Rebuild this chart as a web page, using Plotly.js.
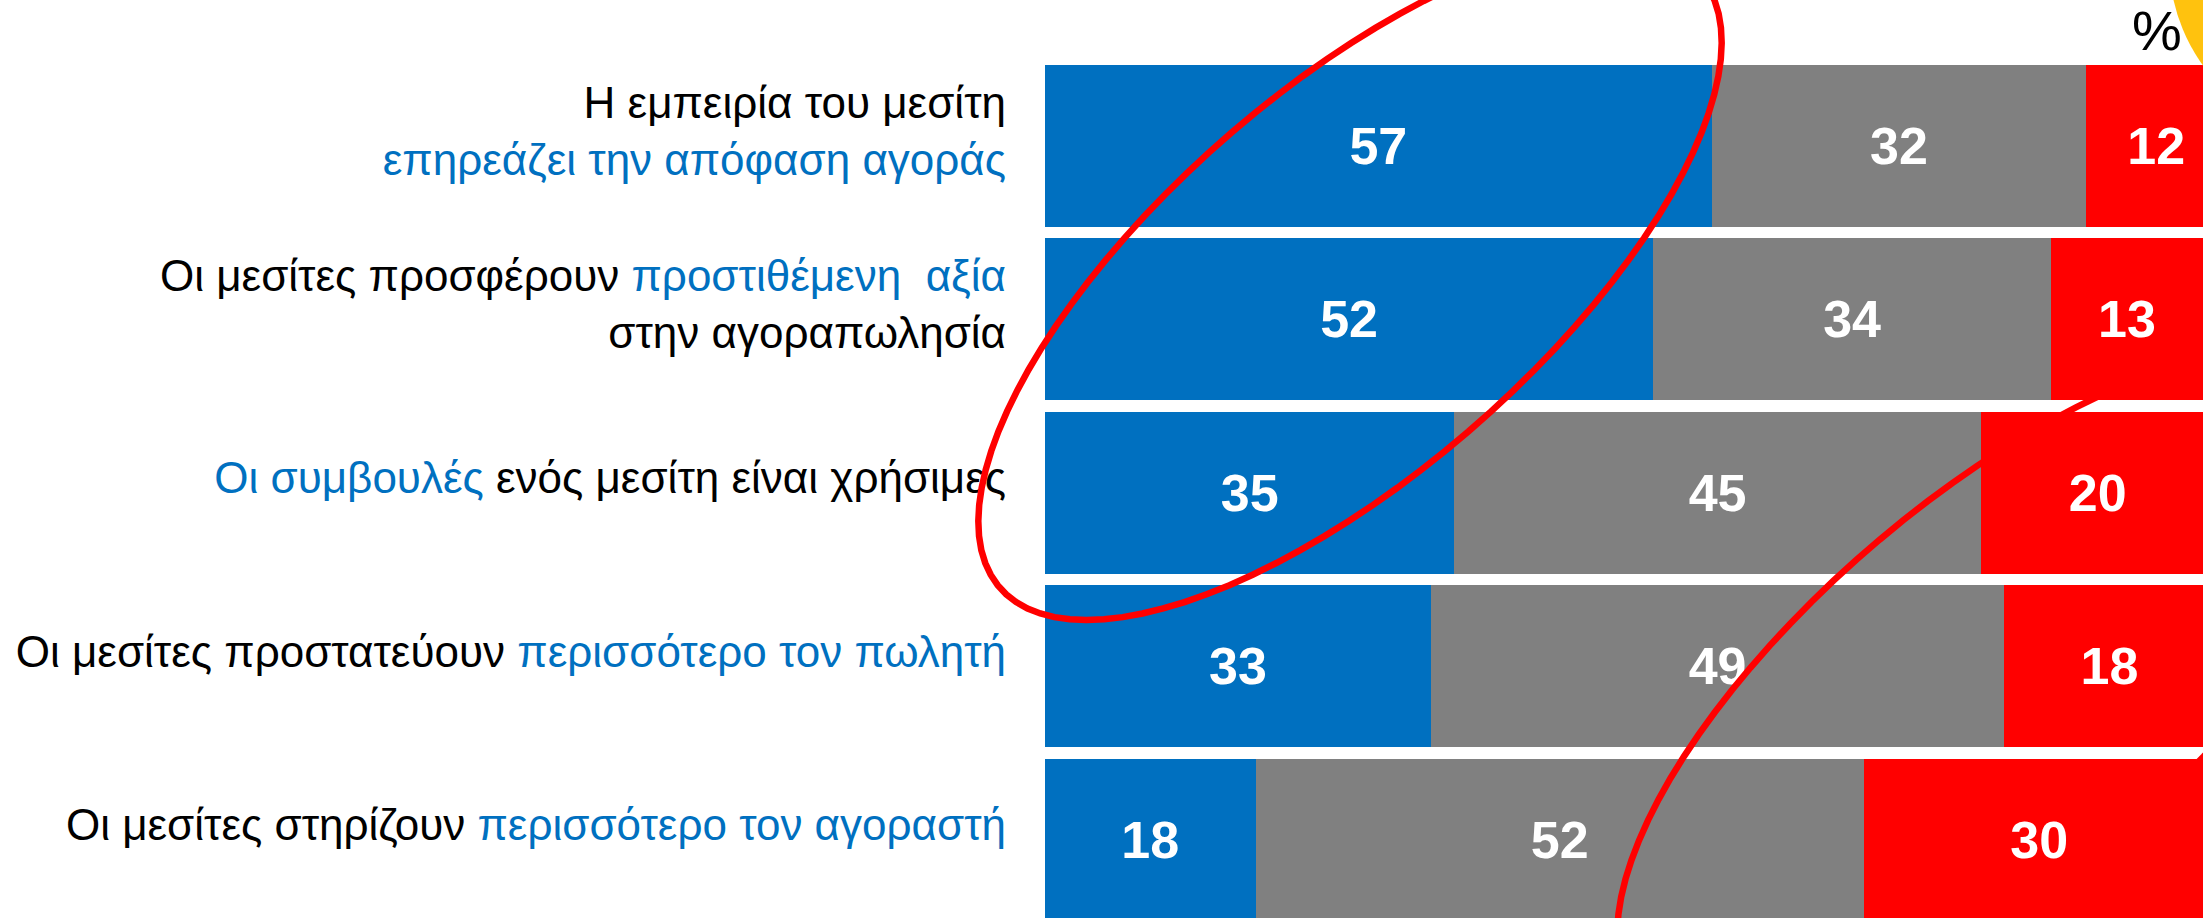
<!DOCTYPE html>
<html>
<head>
<meta charset="utf-8">
<script src="https://cdn.plot.ly/plotly-3.0.1.min.js"></script>
<style>html,body{margin:0;padding:0;background:#fff;}#chart{width:2203px;height:918px;}</style>
</head>
<body>
<div id="chart"></div>
<script>
// ---- data ----
// Tick labels: "\n" = line break, [ ... ] = highlighted (blue) words
const tickLabels = [
  "Η εμπειρία του μεσίτη\n[επηρεάζει την απόφαση αγοράς]",
  "Οι μεσίτες προσφέρουν [προστιθέμενη \u00A0αξία]\nστην αγοραπωλησία",
  "[Οι συμβουλές] ενός μεσίτη είναι χρήσιμες",
  "Οι μεσίτες προστατεύουν [περισσότερο τον πωλητή]",
  "Οι μεσίτες στηρίζουν [περισσότερο τον αγοραστή]"
];
const categories = ["Εμπειρία", "Προστιθέμενη αξία", "Συμβουλές", "Προστασία πωλητή", "Στήριξη αγοραστή"];
const seriesNames = ["Συμφωνώ", "Ούτε συμφωνώ ούτε διαφωνώ", "Διαφωνώ"];
const agree    = [57, 52, 35, 33, 18];
const neutral  = [32, 34, 45, 49, 52];
const disagree = [12, 13, 20, 18, 30];
const unitLabel = "%";

// ---- styles ----
const BLUE = "#0070C0", GREY = "#808080", RED = "#FF0000";
const W = 2203, H = 918, L = 1045;

function richLabel(s) {
  return s.replace(/\[([^\]]*)\]/g, '<span style="color:' + BLUE + '">$1</span>').replace(/\n/g, "<br>");
}
function toPaper(x, y) { return [(x - L) / (W - L), 1 - y / H]; }
function loopPath(cx, cy, w, h, shear) {
  let d = "";
  for (let i = 0; i <= 96; i++) {
    const t = 2 * Math.PI * i / 96;
    const x = cx + w * Math.cos(t) + shear * h * Math.sin(t);
    const y = cy + h * Math.sin(t);
    const p = toPaper(x, y);
    d += (i === 0 ? "M" : "L") + p[0].toFixed(5) + "," + p[1].toFixed(5);
  }
  return d + "Z";
}

const colors = [BLUE, GREY, RED];
const vals = [agree, neutral, disagree];
const traces = vals.map((v, i) => ({
  type: "bar",
  orientation: "h",
  name: seriesNames[i],
  y: categories,
  x: v,
  text: v.map(String),
  textposition: "inside",
  insidetextanchor: "middle",
  constraintext: "none",
  textangle: 0,
  textfont: {family: "Liberation Sans, Arial, sans-serif", size: 52, color: "#ffffff", weight: "bold"},
  marker: {color: colors[i], line: {width: 0}},
  hoverinfo: "skip",
  cliponaxis: true
}));

const c1 = toPaper(2169, -221), c2 = toPaper(2531, 141);
const pc = toPaper(2157, 31);

const layout = {
  width: W, height: H,
  margin: {l: L, r: 0, t: 0, b: 0, pad: 0},
  paper_bgcolor: "#ffffff", plot_bgcolor: "#ffffff",
  barmode: "stack",
  bargap: 0.066,
  showlegend: false,
  xaxis: {range: [0, 99.0], showgrid: false, zeroline: false, showticklabels: false, showline: false, fixedrange: true},
  yaxis: {
    type: "category",
    range: [4.45, -0.8415],
    tickvals: categories,
    ticktext: tickLabels.map(richLabel),
    ticks: "",
    ticklabelstandoff: 38,
    ticklabelshift: 15,
    showgrid: false, zeroline: false, showline: false, fixedrange: true,
    tickfont: {family: "Liberation Sans, Arial, sans-serif", size: 44, color: "#000000"}
  },
  shapes: [
    {type: "circle", xref: "paper", yref: "paper", x0: c1[0], x1: c2[0], y0: c2[1], y1: c1[1],
     fillcolor: "#FFC20E", line: {width: 0}, layer: "above"},
    {type: "path", xref: "paper", yref: "paper", path: loopPath(1350, 282, 262, 338, -0.78),
     line: {color: RED, width: 6.5}, layer: "above"},
    {type: "path", xref: "paper", yref: "paper", path: loopPath(1997, 690, 265, 340, -0.8),
     line: {color: RED, width: 6.5}, layer: "above"}
  ],
  annotations: [
    {xref: "paper", yref: "paper", x: pc[0], y: pc[1], text: unitLabel, showarrow: false,
     xanchor: "center", yanchor: "middle",
     font: {family: "Liberation Sans, Arial, sans-serif", size: 56, color: "#000000"}}
  ]
};

Plotly.newPlot("chart", traces, layout, {displayModeBar: false, staticPlot: true});
</script>
</body>
</html>
